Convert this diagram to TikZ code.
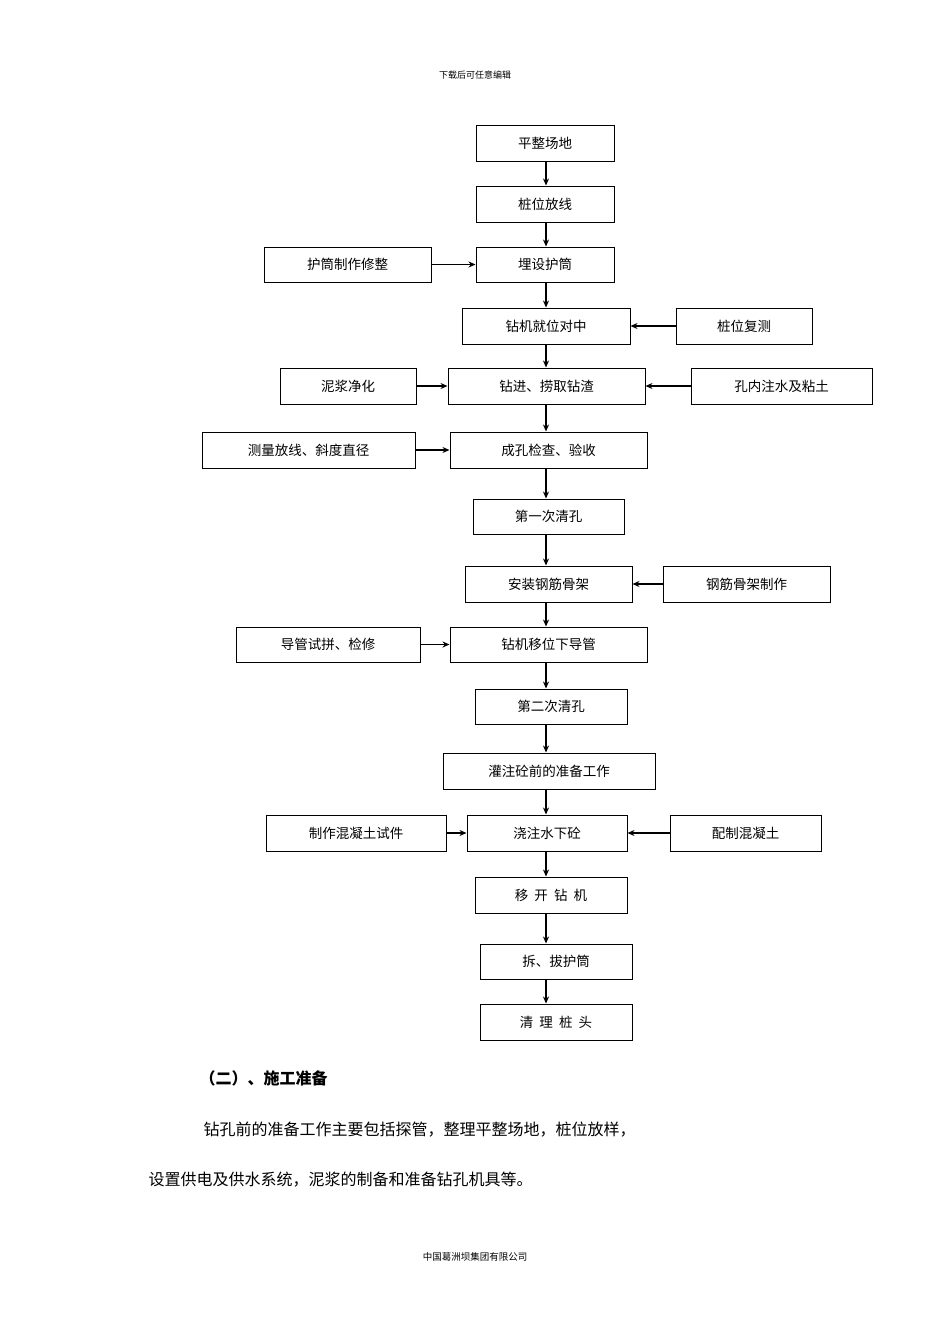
\documentclass[tikz,border=0pt]{standalone}
\usepackage{fontspec}
\newfontfamily\cjk{Noto Sans CJK SC}
\usetikzlibrary{arrows.meta}
\tikzset{box/.style={draw,line width=1pt,inner sep=0pt,font=\cjk\fontsize{13.5}{15}\selectfont},
arr/.style={line width=1.6pt,-{Stealth[length=7pt,width=6pt]}}}
\newcommand{\bx}[6]{\node[box,minimum width={#3pt-#2pt},minimum height={#5pt-#4pt}] (#1) at ({(#2+#3)/2},{(#4+#5)/2}) {#6};}
\begin{document}
\begin{tikzpicture}[x=1pt,y=-1pt]
\useasboundingbox (0,0) rectangle (950,1344);
\node[font=\cjk\fontsize{9}{10}\selectfont] (hd) at (475,75) {下载后可任意编辑};
\bx{a1}{476}{614}{125}{161}{平整场地}
\bx{a2}{476}{614}{186}{222}{桩位放线}
\bx{a3}{476}{614}{247}{282}{埋设护筒}
\bx{l3}{264}{431}{247}{282}{护筒制作修整}
\bx{a4}{462}{630}{308}{344}{钻机就位对中}
\bx{r4}{676}{812}{308}{344}{桩位复测}
\bx{a5}{448}{645}{368}{404}{钻进、捞取钻渣}
\bx{l5}{280}{416}{368}{404}{泥浆净化}
\bx{r5}{691}{872}{368}{404}{孔内注水及粘土}
\bx{a6}{450}{647}{432}{468}{成孔检查、验收}
\bx{l6}{202}{415}{432}{468}{测量放线、斜度直径}
\bx{a7}{473}{624}{499}{534}{第一次清孔}
\bx{a8}{465}{632}{566}{602}{安装钢筋骨架}
\bx{r8}{663}{830}{566}{602}{钢筋骨架制作}
\bx{a9}{450}{647}{627}{662}{钻机移位下导管}
\bx{l9}{236}{420}{627}{662}{导管试拼、检修}
\bx{a10}{475}{627}{689}{724}{第二次清孔}
\bx{a11}{443}{655}{753}{789}{灌注砼前的准备工作}
\bx{a12}{467}{627}{815}{851}{浇注水下砼}
\bx{l12}{266}{446}{815}{851}{制作混凝土试件}
\bx{r12}{670}{821}{815}{851}{配制混凝土}
\bx{a13}{475}{627}{877}{913}{移\ \ 开\ \ 钻\ \ 机}
\bx{a14}{480}{632}{944}{979}{拆、拔护筒}
\bx{a15}{480}{632}{1004}{1040}{清\ \ 理\ \ 桩\ \ 头}
\foreach \p/\q in {a1/a2,a2/a3,a3/a4,a4/a5,a5/a6,a6/a7,a7/a8,a8/a9,a9/a10,a10/a11,a11/a12,a12/a13,a13/a14,a14/a15}
  \draw[arr] (\p.south -| 546,0) -- (\q.north -| 546,0);
\foreach \p/\q in {l3/a3,l5/a5,l6/a6,l9/a9,l12/a12}
  \draw[arr] (\p.east) -- (\q.west);
\foreach \p/\q in {r4/a4,r5/a5,r8/a8,r12/a12}
  \draw[arr] (\p.west) -- (\q.east);
\node[font=\cjk\bfseries\fontsize{16}{18}\selectfont,anchor=west] (h2) at (196,1078) {（二）、施工准备};
\node[font=\cjk\fontsize{16}{18}\selectfont,anchor=west] (p1) at (200,1130) {钻孔前的准备工作主要包括探管，整理平整场地，桩位放样，};
\node[font=\cjk\fontsize{16}{18}\selectfont,anchor=west] (p2) at (145,1180) {设置供电及供水系统，泥浆的制备和准备钻孔机具等。};
\node[font=\cjk\fontsize{9.5}{11}\selectfont] (ft) at (475,1257) {中国葛洲坝集团有限公司};
\end{tikzpicture}
\end{document}
